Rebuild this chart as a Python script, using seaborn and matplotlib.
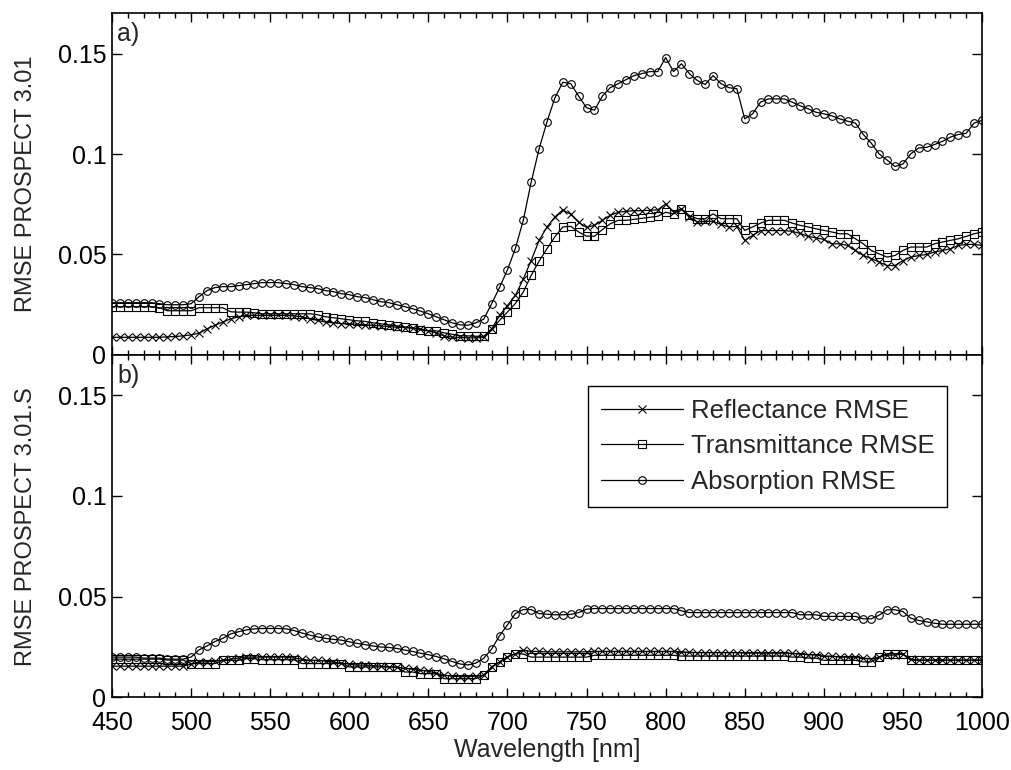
import numpy as np
import pandas as pd
import matplotlib
matplotlib.use("Agg")
import matplotlib.pyplot as plt
from matplotlib.ticker import MultipleLocator
import seaborn as sns

# Wavelength grid (nm)
wavelength = list(range(450, 1001, 5))

# a) PROSPECT 3.01
refl_a = [
    .0088, .0088, .0088, .0088, .0088, .0088, .0088, .0090, .0092, .0095,
    .0100, .0108, .0130, .0147, .0164, .0180, .0189, .0197, .0197, .0197,
    .0197, .0197, .0197, .0195, .0190, .0180, .0172, .0164, .0160, .0156,
    .0155, .0153, .0150, .0147, .0145, .0142, .0138, .0136, .0133, .0130,
    .0120, .0110, .0095, .0089, .0087, .0085, .0085, .0088, .0129, .0197,
    .0246, .0296, .0378, .0470, .0570, .0637, .0687, .0722, .0700, .0660,
    .0635, .0645, .0670, .0695, .0710, .0715, .0718, .0718, .0720, .0722,
    .0752, .0711, .0728, .0687, .0661, .0665, .0665, .0650, .0637, .0640,
    .0570, .0595, .0619, .0619, .0619, .0619, .0615, .0605, .0590, .0583,
    .0575, .0553, .0553, .0545, .0520, .0495, .0480, .0462, .0445, .0445,
    .0470, .0487, .0495, .0500, .0512, .0520, .0528, .0545, .0550, .0550,
    .0545,
]
trans_a = [
    .0240, .0240, .0240, .0240, .0240, .0240, .0235, .0220, .0220, .0220,
    .0220, .0235, .0235, .0235, .0235, .0215, .0213, .0213, .0210, .0205,
    .0205, .0205, .0205, .0205, .0205, .0205, .0200, .0190, .0185, .0180,
    .0175, .0170, .0167, .0160, .0155, .0150, .0145, .0140, .0135, .0125,
    .0120, .0120, .0110, .0103, .0096, .0095, .0093, .0093, .0129, .0172,
    .0214, .0256, .0313, .0396, .0467, .0529, .0588, .0637, .0640, .0612,
    .0591, .0591, .0624, .0653, .0670, .0670, .0675, .0680, .0685, .0690,
    .0710, .0702, .0727, .0694, .0678, .0678, .0702, .0678, .0678, .0678,
    .0620, .0637, .0656, .0670, .0670, .0670, .0656, .0645, .0637, .0628,
    .0620, .0612, .0603, .0603, .0578, .0553, .0520, .0503, .0487, .0495,
    .0520, .0537, .0537, .0537, .0553, .0562, .0570, .0578, .0590, .0603,
    .0612,
]
absorp_a = [
    .0260, .0260, .0260, .0260, .0260, .0260, .0255, .0250, .0250, .0250,
    .0255, .0290, .0320, .0335, .0340, .0340, .0345, .0350, .0355, .0360,
    .0360, .0360, .0355, .0350, .0340, .0335, .0330, .0320, .0315, .0305,
    .0300, .0290, .0285, .0275, .0265, .0260, .0250, .0240, .0230, .0218,
    .0205, .0190, .0175, .0160, .0150, .0148, .0160, .0178, .0255, .0336,
    .0424, .0530, .0670, .0860, .1026, .1160, .1280, .1357, .1350, .1288,
    .1230, .1218, .1288, .1330, .1350, .1370, .1390, .1400, .1410, .1410,
    .1480, .1410, .1449, .1400, .1366, .1346, .1390, .1350, .1330, .1325,
    .1175, .1200, .1258, .1274, .1274, .1274, .1258, .1240, .1225, .1208,
    .1200, .1190, .1175, .1163, .1154, .1097, .1054, .1000, .0970, .0938,
    .0950, .1001, .1030, .1033, .1047, .1063, .1084, .1097, .1103, .1154,
    .1167,
]

# b) PROSPECT 3.01.S
refl_b = [
    .0155, .0155, .0155, .0155, .0155, .0155, .0155, .0155, .0155, .0155,
    .0165, .0176, .0176, .0180, .0185, .0190, .0195, .0200, .0200, .0200,
    .0200, .0200, .0200, .0195, .0190, .0184, .0184, .0180, .0175, .0170,
    .0165, .0160, .0160, .0158, .0155, .0152, .0150, .0145, .0140, .0135,
    .0130, .0120, .0110, .0105, .0103, .0103, .0105, .0110, .0151, .0176,
    .0201, .0217, .0234, .0228, .0228, .0226, .0226, .0226, .0226, .0226,
    .0226, .0228, .0228, .0228, .0228, .0228, .0228, .0228, .0228, .0228,
    .0228, .0228, .0226, .0224, .0222, .0222, .0222, .0222, .0222, .0222,
    .0220, .0220, .0220, .0220, .0220, .0220, .0218, .0215, .0212, .0210,
    .0205, .0205, .0200, .0200, .0200, .0195, .0190, .0200, .0210, .0210,
    .0215, .0190, .0185, .0185, .0185, .0185, .0185, .0185, .0185, .0185,
    .0185,
]
trans_b = [
    .0190, .0190, .0190, .0190, .0190, .0190, .0190, .0185, .0185, .0185,
    .0168, .0168, .0168, .0168, .0184, .0184, .0184, .0192, .0192, .0187,
    .0187, .0187, .0187, .0187, .0168, .0168, .0168, .0168, .0168, .0168,
    .0151, .0151, .0151, .0151, .0151, .0151, .0151, .0126, .0126, .0118,
    .0118, .0118, .0093, .0093, .0093, .0093, .0093, .0110, .0151, .0176,
    .0201, .0217, .0215, .0200, .0200, .0200, .0200, .0200, .0200, .0200,
    .0200, .0209, .0209, .0209, .0209, .0209, .0209, .0209, .0209, .0209,
    .0209, .0209, .0205, .0205, .0205, .0205, .0205, .0205, .0205, .0205,
    .0205, .0205, .0205, .0205, .0205, .0205, .0200, .0200, .0195, .0195,
    .0184, .0184, .0184, .0184, .0184, .0176, .0176, .0200, .0217, .0217,
    .0217, .0184, .0184, .0184, .0184, .0184, .0184, .0184, .0184, .0184,
    .0184,
]
absorp_b = [
    .0200, .0200, .0200, .0200, .0195, .0195, .0195, .0190, .0190, .0190,
    .0200, .0236, .0255, .0277, .0293, .0315, .0326, .0335, .0340, .0342,
    .0342, .0342, .0340, .0332, .0320, .0309, .0300, .0293, .0288, .0284,
    .0276, .0268, .0262, .0255, .0250, .0248, .0243, .0235, .0228, .0219,
    .0212, .0203, .0191, .0178, .0166, .0161, .0170, .0194, .0240, .0306,
    .0360, .0416, .0436, .0436, .0416, .0413, .0410, .0410, .0412, .0421,
    .0438, .0441, .0441, .0441, .0441, .0441, .0441, .0441, .0441, .0441,
    .0441, .0441, .0430, .0421, .0421, .0421, .0421, .0421, .0421, .0421,
    .0421, .0421, .0421, .0421, .0421, .0421, .0421, .0410, .0410, .0410,
    .0402, .0402, .0402, .0402, .0402, .0390, .0390, .0408, .0435, .0435,
    .0426, .0393, .0382, .0375, .0368, .0363, .0363, .0363, .0363, .0363,
    .0363,
]

series_names = ["Reflectance RMSE", "Transmittance RMSE", "Absorption RMSE"]
series_markers = ["x", "s", "o"]
panel_labels = ["a)", "b)"]
ylabels = ["RMSE PROSPECT 3.01", "RMSE PROSPECT 3.01.S"]

frames = []
for panel, arrays in zip(panel_labels, [(refl_a, trans_a, absorp_a),
                                        (refl_b, trans_b, absorp_b)]):
    for name, vals in zip(series_names, arrays):
        frames.append(pd.DataFrame({"wavelength": wavelength, "rmse": vals,
                                    "series": name, "panel": panel}))
df = pd.concat(frames, ignore_index=True)

sns.set_style("ticks")
plt.rcParams["font.family"] = ["Liberation Sans", "DejaVu Sans"]
plt.rcParams["font.size"] = 18

fig = plt.figure(figsize=(10.11, 7.70), dpi=100)
ax_a = fig.add_axes([0.1108, 0.5390, 0.8605, 0.4437])
ax_b = fig.add_axes([0.1108, 0.0943, 0.8605, 0.4447])

for ax, panel, ylab in zip([ax_a, ax_b], panel_labels, ylabels):
    sub = df[df["panel"] == panel]
    for name, mk in zip(series_names, series_markers):
        s = sub[sub["series"] == name]
        sns.lineplot(data=s, x="wavelength", y="rmse", ax=ax, color="black",
                     linewidth=0.9, marker=mk, markersize=5.5,
                     markerfacecolor="none", markeredgecolor="black",
                     markeredgewidth=0.8, label=name, legend=False)
    ax.set_xlim(450, 1000)
    ax.set_ylim(0, 0.17)
    ax.xaxis.set_major_locator(MultipleLocator(50))
    ax.xaxis.set_minor_locator(MultipleLocator(10))
    ax.set_yticks([0, 0.05, 0.1, 0.15])
    ax.set_yticklabels(["0", "0.05", "0.1", "0.15"])
    ax.tick_params(which="both", direction="in", top=True, right=True,
                   colors="black", labelsize=18, width=1.0)
    ax.tick_params(which="major", length=7, pad=4)
    ax.tick_params(axis="x", which="major", length=6.5, pad=10)
    ax.tick_params(which="minor", length=3.5)
    for sp in ax.spines.values():
        sp.set_visible(True)
        sp.set_linewidth(1.2)
        sp.set_color("black")
    ax.set_ylabel(ylab, fontsize=17, labelpad=15)
    ax.set_xlabel("")
    ax.text(0.006, 0.975, panel, transform=ax.transAxes, ha="left", va="top",
            fontsize=18)

ax_a.tick_params(labelbottom=False)
ax_b.set_xticks(range(450, 1001, 50))
ax_b.set_xlabel("Wavelength [nm]", fontsize=18, labelpad=2)

leg = ax_b.legend(loc="upper right", bbox_to_anchor=(0.96, 0.91),
                  borderaxespad=0, frameon=True, fancybox=False,
                  edgecolor="black", framealpha=1, fontsize=18.5,
                  handlelength=3.2, handletextpad=0.3, labelspacing=0.45,
                  borderpad=0.5, numpoints=1)
leg.get_frame().set_linewidth(1.0)

fig.savefig("out.png", dpi=100, facecolor="white")
